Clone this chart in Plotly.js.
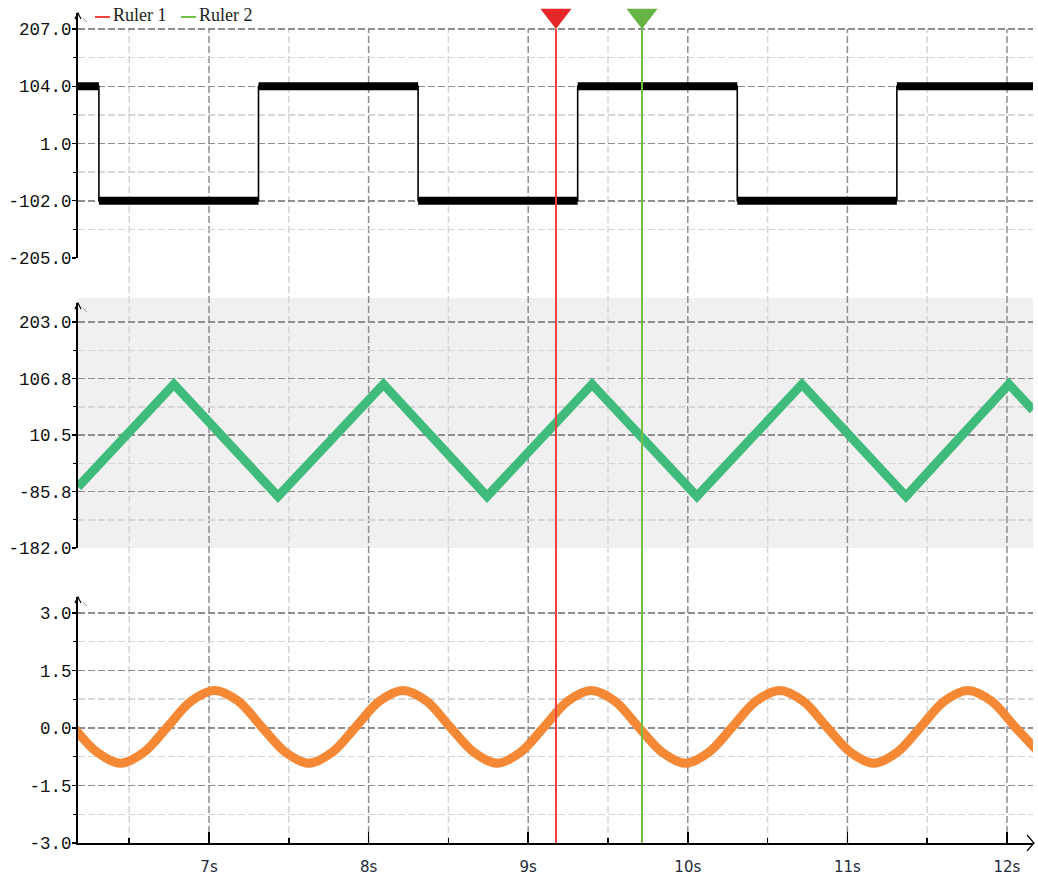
<!DOCTYPE html>
<html><head><meta charset="utf-8">
<script src="https://cdn.plot.ly/plotly-3.0.1.min.js"></script>
<style>html,body{margin:0;padding:0;background:#fff;} #chart{width:1038px;height:877px;}</style>
</head><body><div id="chart"></div>
<script>
// ---------- data ----------
const squareTimes  = [6.179, 6.31, 7.31, 8.31, 9.31, 10.31, 11.31, 12.163];
const squareLevels = [104, -102, 104, -102, 104, -102, 104, 104];

const triangleTimes  = [6.179, 6.780, 7.432, 8.093, 8.742, 9.400, 10.057, 10.715, 11.367, 12.012, 12.163];
const triangleValues = [-78, 97, -94, 97, -94, 97, -94, 97, -94, 97, 53];

const sineTimes = [6.150, 6.298, 6.445, 6.593, 6.740, 6.888, 7.035, 7.183, 7.330, 7.478,
  7.625, 7.773, 7.920, 8.068, 8.215, 8.363, 8.510, 8.658, 8.805, 8.953,
  9.100, 9.248, 9.395, 9.543, 9.690, 9.838, 9.985, 10.133, 10.280, 10.428,
  10.575, 10.723, 10.870, 11.018, 11.165, 11.313, 11.460, 11.608, 11.755, 11.903,
  12.050, 12.198];
const sineValues = [0.03, -0.63, -0.92, -0.63, 0.03, 0.70, 0.98, 0.70, 0.03, -0.63,
  -0.92, -0.63, 0.03, 0.70, 0.98, 0.70, 0.03, -0.63, -0.92, -0.63,
  0.03, 0.70, 0.98, 0.70, 0.03, -0.63, -0.92, -0.63, 0.03, 0.70,
  0.98, 0.70, 0.03, -0.63, -0.92, -0.63, 0.03, 0.70, 0.98, 0.70,
  0.03, -0.63];

const rulerNames = ['Ruler 1', 'Ruler 2'];
const rulerTimes = [9.174, 9.713];

const xTickVals  = [7, 8, 9, 10, 11, 12];
const xTickText  = ['7s', '8s', '9s', '10s', '11s', '12s'];
const xMinorVals = [6.5, 7.5, 8.5, 9.5, 10.5, 11.5];

const y1TickVals = [-205, -102, 1, 104, 207];
const y1TickText = ['-205.0', '-102.0', '1.0', '104.0', '207.0'];
const y1MinorVals = [-153.5, -50.5, 52.5, 155.5];

const y2TickVals = [-182, -85.75, 10.5, 106.75, 203];
const y2TickText = ['-182.0', '-85.8', '10.5', '106.8', '203.0'];
const y2MinorVals = [-133.875, -37.625, 58.625, 154.875];

const y3TickVals = [-3, -1.5, 0, 1.5, 3];
const y3TickText = ['-3.0', '-1.5', '0.0', '1.5', '3.0'];
const y3MinorVals = [-2.25, -0.75, 0.75, 2.25];

// ---------- styles ----------
const W = 1038, H = 877, ML = 78, MR = 5, MT = 0, MB = 34;
const PW = W - ML - MR, PH = H - MT - MB;
const px2x = p => (p - ML) / PW;
const px2y = p => (PH + MT - p) / PH;

const rulerLineColors = ['#ef4040', '#70c044'];
const rulerMarkColors = ['#e62828', '#68b545'];
const darkGrid = '#8e8e8e', lightGrid = '#d6d6d6', gridDash = '7px,3px';
const yFont = {family: 'Liberation Mono, monospace', size: 17.5, color: '#111'};

// square wave: thick level segments + thin connecting steps
const sqX = [], sqY = [];
for (let i = 0; i < squareTimes.length - 1; i++) {
  sqX.push(squareTimes[i], squareTimes[i + 1], null);
  sqY.push(squareLevels[i], squareLevels[i], null);
}

const traces = [
  {x: squareTimes, y: squareLevels, xaxis: 'x', yaxis: 'y', mode: 'lines',
   line: {color: '#000', width: 1.6, shape: 'hv'}, hoverinfo: 'skip'},
  {x: sqX, y: sqY, xaxis: 'x', yaxis: 'y', mode: 'lines',
   line: {color: '#000', width: 8}, connectgaps: false, hoverinfo: 'skip'},
  {x: triangleTimes, y: triangleValues, xaxis: 'x', yaxis: 'y2', mode: 'lines',
   line: {color: '#3fbc7c', width: 9}},
  {x: sineTimes, y: sineValues, xaxis: 'x', yaxis: 'y3', mode: 'lines',
   line: {color: '#f58835', width: 9, shape: 'spline', smoothing: 1}},
];
rulerTimes.forEach((t, i) => {
  traces.push({x: [t], y: [231.3], xaxis: 'x', yaxis: 'y', mode: 'markers', cliponaxis: false,
    marker: {symbol: 'triangle-down', size: 27, color: rulerMarkColors[i], line: {width: 0}},
    name: rulerNames[i]});
});

const shapes = [];
// grey band of the middle panel
shapes.push({type: 'rect', xref: 'paper', yref: 'paper', x0: 0, x1: 1, y0: px2y(548), y1: px2y(298),
  fillcolor: '#f0f0f0', line: {width: 0}, layer: 'below'});
// vertical grid running through all panels
xMinorVals.forEach(v => shapes.push({type: 'line', xref: 'x', yref: 'paper', x0: v, x1: v, y0: 0, y1: px2y(29),
  line: {color: lightGrid, width: 1.5, dash: gridDash}, layer: 'below'}));
xTickVals.forEach(v => shapes.push({type: 'line', xref: 'x', yref: 'paper', x0: v, x1: v, y0: 0, y1: px2y(29),
  line: {color: darkGrid, width: 1.5, dash: gridDash}, layer: 'below'}));
// ruler lines
rulerTimes.forEach((t, i) => shapes.push({type: 'line', xref: 'x', yref: 'paper', x0: t, x1: t, y0: 0, y1: px2y(29),
  line: {color: rulerLineColors[i], width: 2}, layer: 'above'}));
// axis arrows
[13, 303, 597].forEach(tip => {
  shapes.push({type: 'path', xref: 'paper', yref: 'paper',
    path: `M${px2x(75)},${px2y(tip + 6)} L${px2x(78)},${px2y(tip)} L${px2x(81)},${px2y(tip + 6)}`,
    line: {color: '#000', width: 1.2}, layer: 'above'});
  shapes.push({type: 'line', xref: 'paper', yref: 'paper', x0: px2x(83), y0: px2y(tip + 5), x1: px2x(87), y1: px2y(tip + 9),
    line: {color: '#999', width: 1}, layer: 'above'});
});
shapes.push({type: 'path', xref: 'paper', yref: 'paper',
  path: `M${px2x(1027)},${px2y(835)} L${px2x(1034)},${px2y(843)} L${px2x(1027)},${px2y(851)}`,
  line: {color: '#000', width: 1.2}, layer: 'above'});
// legend swatches
const legendX = [95, 181];
legendX.forEach((lx, i) => shapes.push({type: 'line', xref: 'paper', yref: 'paper',
  x0: px2x(lx), x1: px2x(lx + 15), y0: px2y(17), y1: px2y(17),
  line: {color: rulerLineColors[i], width: 2}}));

const annotations = rulerNames.map((n, i) => ({
  xref: 'paper', yref: 'paper', x: px2x(legendX[i] + 16), y: px2y(15), xanchor: 'left', yanchor: 'middle',
  text: n, showarrow: false, font: {family: 'Liberation Serif, serif', size: 18, color: '#222'}
}));

function yAxis(domainPx, range, vals, text, minorVals) {
  return {
    domain: [px2y(domainPx[1]), px2y(domainPx[0])], range: range, anchor: 'x', automargin: false,
    tickmode: 'array', tickvals: vals, ticktext: text, ticks: 'outside', ticklen: 4, tickwidth: 1.2, tickcolor: '#000',
    showline: true, linecolor: '#000', linewidth: 2, zeroline: false,
    showgrid: true, gridcolor: darkGrid, gridwidth: 1.5, griddash: gridDash,
    minor: {tickmode: 'array', tickvals: minorVals, ticks: 'outside', ticklen: 3, tickwidth: 1.2, tickcolor: '#000',
            showgrid: true, gridcolor: lightGrid, gridwidth: 1.5, griddash: gridDash},
    ticklabelstandoff: -3,
    tickfont: yFont, fixedrange: true
  };
}

const layout = {
  width: W, height: H, margin: {l: ML, r: MR, t: MT, b: MB},
  paper_bgcolor: '#fff', plot_bgcolor: '#fff', showlegend: false,
  xaxis: {domain: [0, 1], range: [6.179, 12.163], anchor: 'y3', automargin: false,
    tickmode: 'array', tickvals: xTickVals, ticktext: xTickText,
    ticks: 'inside', ticklen: 11, tickwidth: 1.5, tickcolor: '#000',
    showline: true, linecolor: '#000', linewidth: 2, zeroline: false, showgrid: false,
    minor: {tickmode: 'array', tickvals: xMinorVals, ticks: 'inside', ticklen: 5, tickwidth: 1.5, tickcolor: '#000', showgrid: false},
    ticklabelstandoff: 9,
    tickfont: {family: 'DejaVu Sans, sans-serif', size: 15, color: '#252a3a'}, fixedrange: true},
  yaxis:  yAxis([13, 258], [-205, 235.8], y1TickVals, y1TickText, y1MinorVals),
  yaxis2: yAxis([303, 548], [-182, 235.4], y2TickVals, y2TickText, y2MinorVals),
  yaxis3: yAxis([597, 843], [-3, 3.417], y3TickVals, y3TickText, y3MinorVals),
  shapes: shapes, annotations: annotations
};

Plotly.newPlot('chart', traces, layout, {displayModeBar: false, staticPlot: true});
</script></body></html>
